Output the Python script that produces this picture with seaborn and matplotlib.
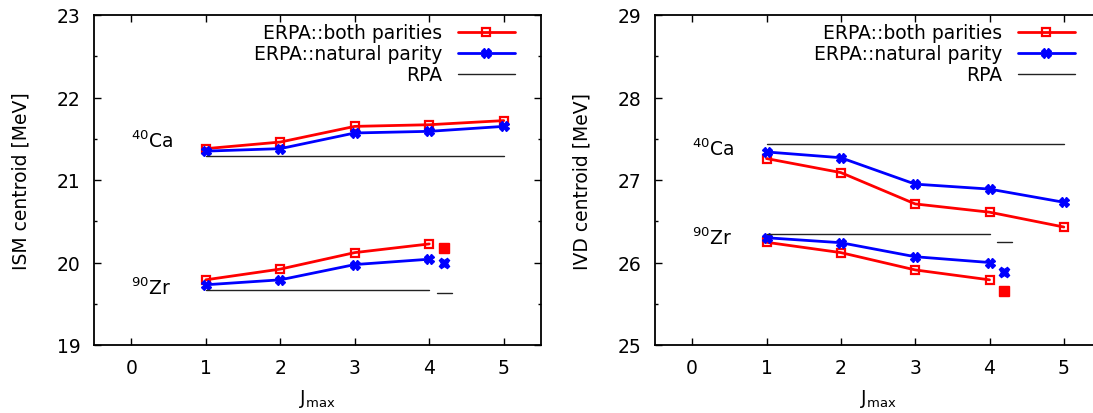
import numpy as np
import pandas as pd
import matplotlib
matplotlib.use("Agg")
import matplotlib.pyplot as plt
import seaborn as sns
from matplotlib.ticker import MultipleLocator

# ---------------- data ----------------
jmax = [1, 2, 3, 4, 5]
jmax_zr = [1, 2, 3, 4]
j_extra = [4.2]
rpa_ca_span = [1, 5]
rpa_zr_span = [1, 4]
rpa_extra_span = [4.1, 4.3]

# ISM centroid [MeV]
ism_ca_both = [21.38, 21.46, 21.65, 21.67, 21.72]
ism_ca_nat = [21.35, 21.38, 21.57, 21.59, 21.65]
ism_ca_rpa = 21.29
ism_zr_both = [19.79, 19.92, 20.12, 20.225]
ism_zr_nat = [19.73, 19.79, 19.975, 20.04]
ism_zr_rpa = 19.67
ism_zr_both_extra = [20.18]
ism_zr_nat_extra = [19.99]
ism_zr_rpa_extra = 19.625

# IVD centroid [MeV]
ivd_ca_both = [27.26, 27.09, 26.71, 26.61, 26.43]
ivd_ca_nat = [27.34, 27.27, 26.95, 26.89, 26.73]
ivd_ca_rpa = 27.44
ivd_zr_both = [26.245, 26.12, 25.91, 25.79]
ivd_zr_nat = [26.30, 26.24, 26.07, 26.00]
ivd_zr_rpa = 26.35
ivd_zr_both_extra = [25.65]
ivd_zr_nat_extra = [25.89]
ivd_zr_rpa_extra = 26.25

labels = ["ERPA::both parities", "ERPA::natural parity", "RPA"]
xticks = [0, 1, 2, 3, 4, 5]

# ---------------- style ----------------
sns.set_theme(style="ticks")
plt.rcParams["font.family"] = ["DejaVu Sans"]
plt.rcParams["mathtext.default"] = "regular"
plt.rcParams["font.size"] = 13.5
for k in ["text.color", "axes.labelcolor", "xtick.color", "ytick.color",
          "axes.edgecolor"]:
    plt.rcParams[k] = "black"

RED = "#ff0000"
BLUE = "#0000ff"
FS = 13.5

fig = plt.figure(figsize=(10.93, 4.14), dpi=100)
ax1 = fig.add_axes([94 / 1093, 68 / 414, 447 / 1093, 330 / 414])
ax2 = fig.add_axes([655 / 1093, 68 / 414, 446 / 1093, 330 / 414])

red_kw = dict(color=RED, lw=2.0, marker="s", markersize=5.5,
              markerfacecolor="none", markeredgecolor=RED, markeredgewidth=1.6)
blue_kw = dict(color=BLUE, lw=2.0, marker="X", markersize=6.5,
               markerfacecolor=BLUE, markeredgecolor=BLUE, markeredgewidth=1.0)
rpa_kw = dict(color="#222222", lw=1.0)


def panel(ax, ca_both, ca_nat, ca_rpa, zr_both, zr_nat, zr_rpa,
          zr_both_x, zr_nat_x, zr_rpa_x, ylim, ylabel, ca_y, zr_y):
    sns.lineplot(x=jmax, y=ca_both, ax=ax, label=labels[0], **red_kw)
    sns.lineplot(x=jmax, y=ca_nat, ax=ax, label=labels[1], **blue_kw)
    sns.lineplot(x=rpa_ca_span, y=[ca_rpa] * 2, ax=ax, label=labels[2], **rpa_kw)
    sns.lineplot(x=jmax_zr, y=zr_both, ax=ax, **red_kw)
    sns.lineplot(x=jmax_zr, y=zr_nat, ax=ax, **blue_kw)
    sns.lineplot(x=rpa_zr_span, y=[zr_rpa] * 2, ax=ax, **rpa_kw)
    # extra points
    ax.plot(j_extra, zr_both_x, ls="none", marker="s", markersize=7,
            color=RED, markeredgecolor=RED)
    ax.plot(j_extra, zr_nat_x, ls="none", marker="X", markersize=7.5,
            color=BLUE, markeredgecolor=BLUE, markeredgewidth=1.0)
    sns.lineplot(x=rpa_extra_span, y=[zr_rpa_x] * 2, ax=ax, **rpa_kw)

    ax.set_xlim(-0.5, 5.5)
    ax.set_ylim(*ylim)
    ax.set_xticks(xticks)
    ax.yaxis.set_major_locator(MultipleLocator(1))
    ax.yaxis.set_minor_locator(MultipleLocator(0.5))
    ax.tick_params(which="both", direction="in", top=True, right=True,
                   labelsize=FS, color="black", labelcolor="black", width=1.0)
    ax.tick_params(which="major", length=5, pad=9.5)
    ax.tick_params(which="minor", length=2.5)
    for s in ax.spines.values():
        s.set_visible(True)
        s.set_linewidth(1.3)
        s.set_color("black")
    ax.set_xlabel("J$_{max}$", fontsize=FS, labelpad=7)
    ax.set_ylabel(ylabel, fontsize=FS, labelpad=19)
    ax.text(0.0, ca_y, "$^{40}$Ca", fontsize=FS, ha="left", va="center")
    ax.text(0.0, zr_y, "$^{90}$Zr", fontsize=FS, ha="left", va="center")
    ax.legend(loc="upper right", frameon=False, markerfirst=False,
              fontsize=FS, handlelength=3.0, handletextpad=0.85,
              labelspacing=0.1, borderaxespad=0.05,
              bbox_to_anchor=(1.0 - 18 / 447, 1.0))
    ax.grid(False)


panel(ax1, ism_ca_both, ism_ca_nat, ism_ca_rpa, ism_zr_both, ism_zr_nat,
      ism_zr_rpa, ism_zr_both_extra, ism_zr_nat_extra, ism_zr_rpa_extra,
      (19, 23), "ISM centroid [MeV]", 21.48, 19.70)
panel(ax2, ivd_ca_both, ivd_ca_nat, ivd_ca_rpa, ivd_zr_both, ivd_zr_nat,
      ivd_zr_rpa, ivd_zr_both_extra, ivd_zr_nat_extra, ivd_zr_rpa_extra,
      (25, 29), "IVD centroid [MeV]", 27.38, 26.31)

fig.savefig("out.png", dpi=100)
